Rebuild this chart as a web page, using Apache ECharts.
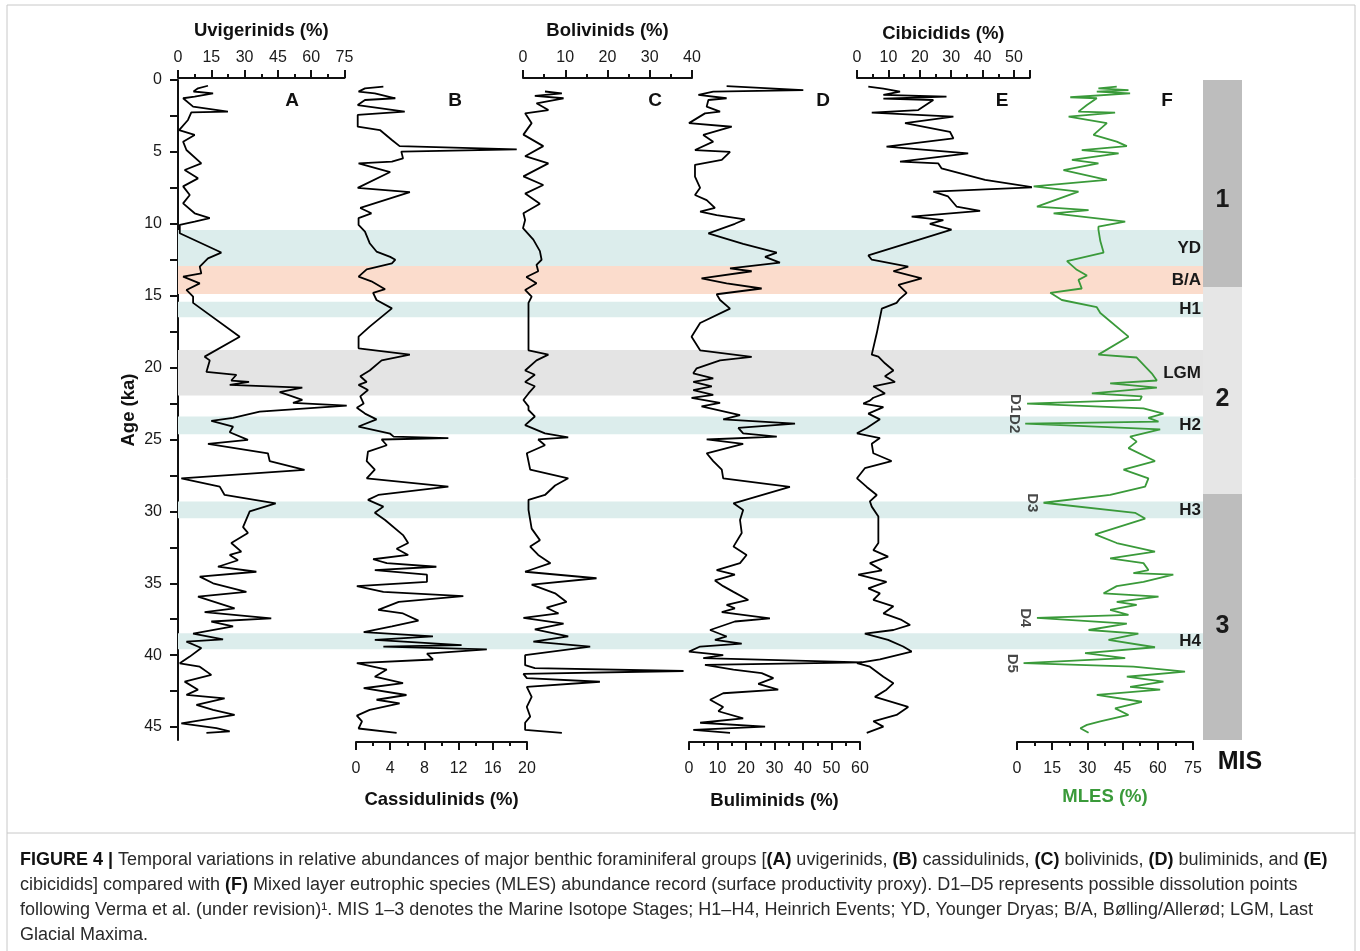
<!DOCTYPE html>
<html><head><meta charset="utf-8">
<script src="https://cdn.jsdelivr.net/npm/echarts@6/dist/echarts.min.js"></script>
<style>html,body{margin:0;padding:0;background:#fff}#c{width:1360px;height:951px}</style>
</head><body><div id="c"></div><script>
// ---------------- DATA ----------------
const ageA=[0.4,0.58,0.8,0.93,1.16,1.27,1.85,2.2,2.25,2.78,3.48,3.82,4.29,4.87,5.8,6.26,6.84,7.4,8.0,8.58,9.27,9.6,9.85,10.08,10.66,12.0,12.4,12.98,13.45,13.68,14.14,14.6,15.06,15.5,17.85,19.24,19.5,20.3,20.5,20.9,21.0,21.2,21.4,21.7,21.9,22.25,22.45,22.65,23.06,23.5,23.7,24.1,24.5,25.03,25.3,25.96,26.5,27.12,27.7,28.28,28.86,29.44,30.0,31.1,31.5,32.2,32.8,33.03,33.4,33.85,34.2,34.54,35.0,35.6,35.93,36.74,37.0,37.44,37.66,38.0,38.5,38.9,39.06,39.5,40.1,40.57,40.8,41.37,41.84,42.4,42.76,43.0,43.46,43.8,44.16,44.74,45.08,45.3,45.4];
const valA=[13.5,9,7,15.8,7.5,2.3,6.8,22.5,6,4.5,0.5,7.5,2.3,3.8,10.5,3,9,2.3,5.3,2.3,7.5,14.3,7.5,0.8,0.8,19.5,13.5,9.8,10.5,2.3,9.8,3.8,6.8,6.8,27.8,12,14.3,12.8,26.3,24,32,23.3,56,45.8,49.5,56,51.8,76,36.8,24.8,15,24.8,23.3,31.5,13.5,40.5,41.3,57,1.5,18.8,21,44,32.3,29.3,31.5,24,28.5,23.3,27,18,35.3,9.8,15.8,30.8,9,25.5,12,42,15,24.8,6.8,20.3,3.8,10.5,5.3,0.8,9.8,15,3,9,3.8,21,8.3,15.8,25.5,1.5,17.3,23.3,12.8];

const ageB=[0.46,0.58,0.81,0.93,1.27,1.39,1.74,2.2,2.43,3.25,3.48,4.17,4.6,4.82,4.98,5.45,5.68,5.8,6.4,7.5,7.8,8.9,9.27,9.6,10.08,10.55,11.35,11.93,12.3,12.5,12.75,13.17,13.68,14.0,14.55,14.8,15.3,15.88,17.15,17.85,18.66,19.1,19.5,20.2,20.6,21.0,21.2,21.56,22.0,22.5,22.8,23.2,23.6,24.1,24.6,24.8,24.9,25.0,25.4,25.85,26.5,27.1,27.7,28.28,28.86,29.2,29.67,30.1,30.6,31.65,32.2,32.6,33.03,33.33,33.6,33.85,34.08,34.4,34.9,35.2,35.6,35.9,36.3,36.85,37.1,37.6,38.0,38.4,38.7,38.94,39.3,39.4,39.6,39.9,40.3,40.55,41.0,41.5,41.95,42.3,42.77,43.1,43.35,43.8,44.2,44.6,45.1,45.4];
const valB=[3.2,1.05,0.3,2.2,4.6,1.05,0.2,5.7,0.2,0.2,2.8,4.2,5.1,18.8,5.3,5.5,4.2,0.3,4.0,0.2,6.3,0.5,1.8,0.3,0.3,1.05,1.6,2.4,4,4.6,4.2,1.25,0.3,1.8,3.4,2.0,2.4,4.2,1.6,0.3,0.3,6.3,3.0,1.6,0.5,1.25,0.3,1.4,0.5,0.9,0.1,1.05,2.4,0.3,4,4.4,10.8,3,3.6,1.4,1.25,2.2,1.25,10.8,2.6,1.4,3.2,2.2,3.4,5.5,6.1,4.75,6.1,2.0,3.6,9.4,2.2,8.3,8.3,0.1,3.2,12.55,5,2.6,5.5,7.3,4.2,0.9,9,2.2,12.35,3.2,15.3,8.3,9,0.1,3.6,2.2,5.5,0.9,5.9,2.4,5.1,1.6,0.1,0.7,0.3,4.75];

const ageC=[0.8,0.93,1.1,1.27,1.62,2.09,2.32,3.0,3.8,4.6,5.3,5.8,6.7,7.3,7.9,8.6,9.27,9.74,10.3,11.1,11.9,12.5,12.85,13.3,13.7,14.14,14.6,15.06,15.5,16.46,17.85,18.8,19.1,19.5,20.2,20.5,21.0,21.3,21.8,22.25,22.7,22.95,23.4,24.0,24.57,24.85,25.0,25.4,25.96,27.1,27.7,28.2,28.86,29.2,29.9,31.2,32.0,32.45,33.03,33.6,34.2,34.65,35.1,35.7,36.3,36.7,37.1,37.4,37.8,38.2,38.7,39.06,39.4,40.0,40.7,40.9,41.1,41.3,41.6,41.85,42.2,42.9,43.6,44.27,44.7,45.2,45.4];
const valC=[5.2,9.2,2.8,9.6,3.2,6,0.5,2.05,0.1,4.8,0.5,6,0.1,4.8,0.5,4,0.1,0.5,0,2.45,4,4.4,3.2,3.6,0.8,3.2,0.5,2.05,1.3,1.3,1.3,1.3,6,3.2,0.5,2.8,0.5,2.8,1.3,0.1,1.3,1.3,2.8,0.5,5.2,10.7,3.6,5.2,0.9,1.7,10.7,7.6,5.2,1.3,1.3,2.05,4,1.7,3.6,6.5,0.5,17.4,2.05,7.6,10.3,5.6,8.4,0.1,9.6,2.8,10.7,2.45,15.9,0.5,0.5,2.8,38,0.1,0.9,18.2,0.9,2.05,0.9,1.7,0.5,0.5,9.2];

const ageD=[0.42,0.7,0.81,1.04,1.27,1.39,1.85,2.2,2.32,3.0,3.25,3.82,4.29,4.87,5.0,5.56,5.9,6.72,7.5,8.0,8.35,8.9,9.16,9.4,9.7,10.0,10.66,11.4,12.0,12.3,12.7,13.1,13.3,13.8,14.14,14.5,14.9,15.3,15.9,16.9,17.85,18.8,19.25,19.5,20.05,20.4,20.75,21.0,21.3,21.56,21.9,22.1,22.45,22.7,23.3,23.6,23.9,24.2,24.57,24.8,25.0,25.3,25.96,26.5,27.1,27.7,28.3,29.44,29.9,30.6,31.5,32.45,33.03,33.6,34.08,34.4,34.8,35.2,35.6,36.16,36.5,36.74,37.0,37.44,37.66,38.25,38.7,38.94,39.2,39.4,39.75,40.0,40.2,40.5,40.67,41.0,41.25,41.6,42.0,42.4,42.65,43.1,43.6,43.9,44.4,44.7,44.97,45.2,45.4];
const valD=[13.2,40.1,8.5,3.3,13.2,6.8,6.2,10.9,5.6,0,15,5,8.5,2.1,14.4,11.5,2.1,2.1,3.9,2.1,6.2,9.1,3.9,9.7,19.6,16.1,6.8,19,30.8,26.7,31.9,14.4,22,4.4,13.2,25.5,9.7,10.9,14.4,3.9,0.9,3.9,22,10.9,2.7,1.5,8.5,1.5,8,1.5,8.5,0.9,10.9,4.4,17.9,12,37.2,17.3,19,30.8,6.2,19,6.2,8.5,11.5,12,35.4,15.6,19,17.9,18.5,15.6,20.2,17.9,9.7,16.1,9.1,12,15.6,20.8,13.2,16.1,11.5,28.4,16.1,7.4,13.2,9.1,18.5,3.9,0,12,5,61,5.6,15.6,25.5,29.6,24.3,31.3,12,7.4,12,10.3,19,3.9,26.7,1.5,14.4];

const ageE=[0.46,0.6,0.81,1.04,1.16,1.3,1.39,2.09,2.27,2.55,3.0,3.6,4.06,4.64,5.1,5.68,5.8,6.14,6.95,7.46,7.76,8.1,8.8,9.1,9.5,9.74,10.0,10.4,12.2,12.5,12.98,13.3,13.8,14.25,14.8,15.2,15.5,15.9,17.6,19.1,19.24,19.7,20.2,20.6,21.0,21.3,21.8,22.1,22.3,22.5,22.75,23.2,23.6,24.2,24.57,24.9,25.3,25.96,26.5,27.0,27.7,28.3,28.86,29.3,29.67,30.35,32.2,32.7,33.15,33.6,34.1,34.4,34.9,35.35,35.7,36.16,36.6,37.1,37.55,37.9,38.25,38.5,38.94,39.4,39.75,40.3,40.56,40.8,41.5,41.95,42.4,42.9,43.6,44.16,44.6,44.97,45.4];
const valE=[3.6,8.4,13.7,8.4,28.5,8.4,24.3,19.5,4.7,30.7,15.3,29.6,30.7,9.4,35.4,13.7,25.9,26.9,40.8,56.2,24.3,29,31.7,39.2,17.4,27.5,23.2,30.1,3.6,4.7,16.3,11.6,20.6,13.2,15.8,13.7,12.6,7.9,6.3,4.7,6.8,8.9,11.6,8.9,12.1,5.2,8.9,5.2,4.1,2.0,8.4,3.6,7.3,3.1,0,7.3,4.7,5.2,11,2.5,0,3.1,6.3,4.1,4.7,6.8,6.8,5.2,9.9,4.1,7.9,0.4,9.4,3.6,7.3,5.2,11.6,8.4,14.2,16.9,11.6,2.5,9.9,14.7,17.4,7.3,0,4.1,8.4,11.6,9.4,5.7,16.3,12.6,5.2,8.4,3.1];

const ageF=[0.46,0.58,0.7,0.81,0.93,1.2,1.27,1.74,2.2,2.27,2.55,3.0,3.4,3.82,4.29,4.6,4.87,5.1,5.56,5.8,6.26,6.95,7.4,7.76,8.8,9.05,9.27,9.85,10.2,10.4,11.2,12.0,12.6,13.2,13.6,13.9,14.5,14.8,15.3,15.8,16.2,17.85,19.1,19.3,20.4,20.9,21.1,21.4,21.8,22.0,22.25,22.5,22.83,23.2,23.5,23.76,23.9,24.3,24.8,25.15,25.6,26.5,27.1,27.7,28.28,28.86,29.4,30.1,30.5,31.6,32.2,32.8,33.27,33.6,34.08,34.3,34.4,34.9,35.2,35.7,35.93,36.3,36.5,36.85,37.2,37.4,37.8,38.25,38.5,38.94,39.45,39.86,40.2,40.56,40.8,41.14,41.5,41.84,42.2,42.4,42.76,43.24,43.7,44.16,44.6,44.85,45.08,45.4];
const valF=[42.5,34.7,47.5,34,48.2,22.7,34,29.8,26.2,41.8,22,38.3,35.5,32.6,42.5,46.8,27.6,43.3,23.4,34.7,19.8,38.3,7.1,26.2,8.5,30.5,15.6,46.1,34.7,34.7,35.5,36.9,21.3,25.5,29.8,26.2,27.6,14.2,19.1,34,35.5,47.5,34.7,51,57.4,59.6,39.7,59.6,31.9,53.2,52.5,4.3,53.9,62.4,56,60.3,3.5,61,48.2,51,47.5,58.8,45.4,56,54.6,39.7,11.3,50.3,54.6,33.3,42.5,58.8,39.7,53.9,56,49.6,66.6,53.9,42.5,36.9,60.3,42.5,51,39.7,47.5,8.5,46.8,30.5,51.7,39,58.8,29,46.1,2.8,49.6,71.6,46.8,62.4,48.2,61,34,53.2,41.8,47.5,35.5,29.8,27,30.5];

const bandNames=['YD','B/A','H1','LGM','H2','H3','H4'];
const bandStart=[10.43,12.94,15.42,18.78,23.41,29.32,38.48];
const bandEnd=[12.94,14.88,16.5,21.95,24.64,30.48,39.59];
const bandKind=['h','ba','h','lgm','h','h','h'];

const misNames=['1','2','3'];
const misStart=[0,14.4,28.8];
const misEnd=[14.4,28.8,45.9];

const dNames=['D1','D2','D3','D4','D5'];
const dAge=[22.5,23.9,29.4,37.4,40.56];
const dVal=[4.3,3.5,11.3,8.5,2.8];

const yTicks=[0,2.5,5,7.5,10,12.5,15,17.5,20,22.5,25,27.5,30,32.5,35,37.5,40,42.5,45];
const yLabels=[0,5,10,15,20,25,30,35,40,45];

// ---------------- CHART ----------------
const FONT='"Liberation Sans", Arial, Helvetica, sans-serif';
const BAND_COL={h:'#dcedec',ba:'#fbdccc',lgm:'#e4e4e4'};
const MIS_COL=['#bdbdbd','#e6e6e6','#bdbdbd'];
const MIS_OFF=[[0,17],[0,9],[0,9]];
const GREEN='#3a9a3a';
const YMAX=45.9;

const zip=(ages,vals)=>ages.map((a,i)=>[vals[i],a]);

const grids=[
  {left:178,top:80,width:1025,height:660}, // bands
  {left:178,top:80,width:166.5,height:660}, // A
  {left:356,top:80,width:171,height:660},   // B
  {left:523,top:80,width:169,height:660},   // C
  {left:689,top:80,width:171,height:660},   // D
  {left:857,top:80,width:172.7,height:660}, // E
  {left:1017,top:80,width:176,height:660},  // F
  {left:1203,top:80,width:39,height:660}    // MIS
];

function xAx(gi,pos,name,max,interval,nameGap,nameColor){
  return {gridIndex:gi,type:'value',position:pos,min:0,max:max,interval:interval,
    offset:2,
    name:name,nameLocation:'middle',nameGap:nameGap,
    nameTextStyle:{fontFamily:FONT,fontWeight:'bold',fontSize:18.5,color:nameColor||'#111'},
    axisLine:{show:true,onZero:false,lineStyle:{color:'#111',width:2}},
    axisTick:{show:true,length:8,lineStyle:{color:'#111',width:2}},
    minorTick:{show:true,splitNumber:2,length:4,lineStyle:{color:'#111',width:2}},
    axisLabel:{fontFamily:FONT,fontSize:16,color:'#1a1a1a',margin:pos==='top'?12:19},
    splitLine:{show:false}};
}
const xAxes=[
  {gridIndex:0,type:'value',min:0,max:1,show:false},
  xAx(1,'top','Uvigerinids (%)',75,15,38),
  xAx(2,'bottom','Cassidulinids (%)',20,4,48),
  xAx(3,'top','Bolivinids (%)',40,10,38),
  xAx(4,'bottom','Buliminids (%)',60,10,49),
  xAx(5,'top','Cibicidids (%)',55,10,35),
  xAx(6,'bottom','MLES (%)',75,15,45,GREEN),
  {gridIndex:7,type:'value',min:0,max:1,show:false}
];
const yAxes=grids.map((g,i)=>({gridIndex:i,type:'value',min:0,max:YMAX,inverse:true,show:false}));
yAxes[1]={gridIndex:1,type:'value',min:0,max:YMAX,inverse:true,show:true,position:'left',
  name:'Age (ka)',nameLocation:'middle',nameGap:40,nameRotate:90,
  nameTextStyle:{fontFamily:FONT,fontWeight:'bold',fontSize:18.5,color:'#111'},
  axisLine:{show:true,onZero:false,lineStyle:{color:'#111',width:2}},
  axisTick:{show:true,length:8,customValues:yTicks,lineStyle:{color:'#111',width:2}},
  axisLabel:{fontFamily:FONT,fontSize:16,color:'#1a1a1a',margin:16,customValues:yLabels},
  splitLine:{show:false}};

function lineSeries(gi,data,color){
  return {type:'line',xAxisIndex:gi,yAxisIndex:gi,data:data,symbol:'none',clip:false,z:5,
    lineStyle:{color:color||'#000',width:1.8},silent:true};
}

const series=[
  {type:'line',xAxisIndex:0,yAxisIndex:0,data:[],z:1,silent:true,
   markArea:{silent:true,data:bandNames.map((n,i)=>[
     {name:n,yAxis:bandStart[i],itemStyle:{color:BAND_COL[bandKind[i]]}},{yAxis:bandEnd[i]}]),
     label:{show:true,position:'insideRight',distance:2,formatter:'{b}',fontFamily:FONT,fontWeight:'bold',fontSize:17,color:'#1a1a1a'}}},
  {type:'line',xAxisIndex:7,yAxisIndex:7,data:[],z:1,silent:true,
   markArea:{silent:true,data:misNames.map((n,i)=>[
     {name:n,yAxis:misStart[i],itemStyle:{color:MIS_COL[i]},label:{offset:MIS_OFF[i]}},{yAxis:misEnd[i]}]),
     label:{show:true,position:'inside',formatter:'{b}',fontFamily:FONT,fontWeight:'bold',fontSize:25,color:'#1a1a1a'}}},
  lineSeries(1,zip(ageA,valA)),
  lineSeries(2,zip(ageB,valB)),
  lineSeries(3,zip(ageC,valC)),
  lineSeries(4,zip(ageD,valD)),
  lineSeries(5,zip(ageE,valE)),
  lineSeries(6,zip(ageF,valF),GREEN),
  {type:'scatter',xAxisIndex:6,yAxisIndex:6,symbolSize:0,z:6,silent:true,
   data:dNames.map((n,i)=>({name:n,value:[dVal[i],dAge[i]]})),
   label:{show:true,formatter:'{b}',position:'left',distance:4,rotate:-90,align:'center',verticalAlign:'top',
     fontFamily:FONT,fontWeight:'bold',fontSize:15,color:'#1a1a1a'}}
];

function txt(x,y,t,size,extra){
  return Object.assign({type:'text',x:x,y:y,silent:true,z:10,
    style:{text:t,fill:'#111',font:'bold '+size+'px '+FONT,textAlign:'center',textVerticalAlign:'middle'}},extra||{});
}
const capStyle={fontFamily:FONT,fontSize:18,fill:'#2a2a2a'};
const capRich={b:{fontFamily:FONT,fontSize:18,fontWeight:'bold',fill:'#111'}};
function cap(y,t){
  return {type:'text',x:20,y:y,silent:true,z:10,
    style:Object.assign({text:t,rich:capRich,textVerticalAlign:'middle'},capStyle)};
}
const graphic=[
  {type:'rect',shape:{x:7,y:5,width:1348,height:960},style:{fill:'none',stroke:'#c8c8c8',lineWidth:1},silent:true,z:0},
  {type:'line',shape:{x1:7,y1:833,x2:1355,y2:833},style:{stroke:'#c8c8c8',lineWidth:1},silent:true,z:0},
  txt(292,101,'A',19),txt(455,101,'B',19),txt(655,101,'C',19),
  txt(823,101,'D',19),txt(1002,101,'E',19),txt(1167,101,'F',19),
  txt(1240,762,'MIS',25),
  cap(860,'{b|FIGURE 4 |} Temporal variations in relative abundances of major benthic foraminiferal groups [{b|(A)} uvigerinids, {b|(B)} cassidulinids, {b|(C)} bolivinids, {b|(D)} buliminids, and {b|(E)}'),
  cap(885,'cibicidids] compared with {b|(F)} Mixed layer eutrophic species (MLES) abundance record (surface productivity proxy). D1–D5 represents possible dissolution points'),
  cap(910,'following Verma et al. (under revision)¹. MIS 1–3 denotes the Marine Isotope Stages; H1–H4, Heinrich Events; YD, Younger Dryas; B/A, Bølling/Allerød; LGM, Last'),
  cap(935,'Glacial Maxima.')
];

const chart=echarts.init(document.getElementById('c'),null,{renderer:'canvas'});
chart.setOption({animation:false,backgroundColor:'#fff',grid:grids,xAxis:xAxes,yAxis:yAxes,series:series,graphic:graphic});
</script></body></html>
